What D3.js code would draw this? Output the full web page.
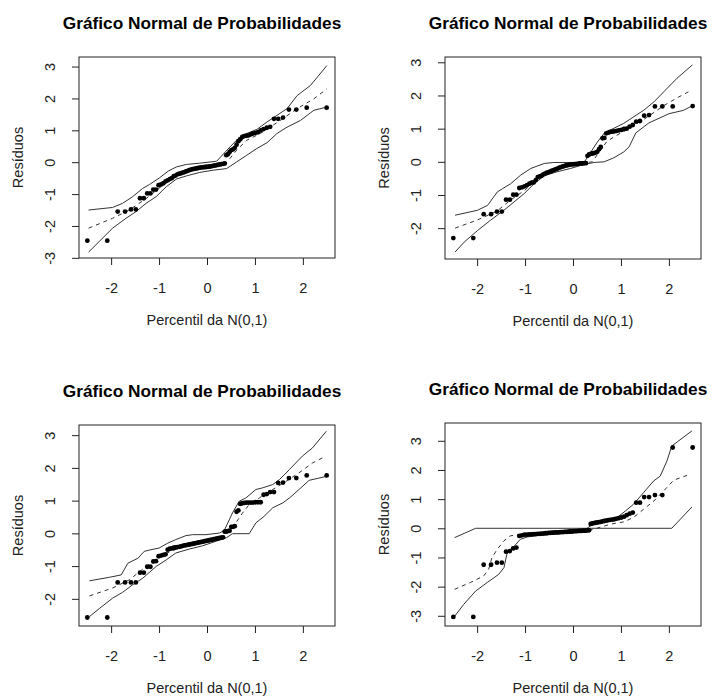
<!DOCTYPE html>
<html>
<head>
<meta charset="utf-8">
<script src="https://cdn.jsdelivr.net/npm/d3@7"></script>
<style>
  body { margin: 0; background: #fff; }
  svg { display: block; }
  text { font-family: "Liberation Sans", Arial, sans-serif; }
</style>
</head>
<body>
<svg id="chart" width="718" height="698"></svg>
<script>
// percentis da N(0,1) usados no eixo x (80 observacoes)
const quantis = [
  -2.496, -2.080, -1.863, -1.709, -1.586, -1.485, -1.397, -1.318, -1.247, -1.181,
  -1.120, -1.064, -1.010, -0.959, -0.910, -0.864, -0.820, -0.776, -0.735, -0.694,
  -0.655, -0.617, -0.579, -0.543, -0.507, -0.471, -0.437, -0.402, -0.369, -0.335,
  -0.302, -0.270, -0.237, -0.205, -0.173, -0.141, -0.110, -0.078, -0.047, -0.016,
  0.016, 0.047, 0.078, 0.110, 0.141, 0.173, 0.205, 0.237, 0.270, 0.302,
  0.335, 0.369, 0.402, 0.437, 0.471, 0.507, 0.543, 0.579, 0.617, 0.655,
  0.694, 0.735, 0.776, 0.820, 0.864, 0.910, 0.959, 1.010, 1.064, 1.120,
  1.181, 1.247, 1.318, 1.397, 1.485, 1.586, 1.709, 1.863, 2.080, 2.496
];

const xTicks = [-2, -1, 0, 1, 2];

// residuos ordenados, um vetor por grafico
const residuos1 = [
  -2.46, -2.46, -1.55, -1.55, -1.48, -1.48, -1.13, -1.13, -0.98, -0.98,
  -0.86, -0.86, -0.72, -0.70, -0.66, -0.60, -0.57, -0.53, -0.50, -0.44,
  -0.42, -0.38, -0.36, -0.35, -0.33, -0.31, -0.29, -0.27, -0.25, -0.23,
  -0.22, -0.21, -0.20, -0.19, -0.18, -0.17, -0.16, -0.16, -0.15, -0.15,
  -0.14, -0.14, -0.13, -0.12, -0.11, -0.10, -0.09, -0.08, -0.07, -0.06,
  -0.05, -0.04, 0.22, 0.25, 0.32, 0.38, 0.40, 0.45, 0.55, 0.66,
  0.72, 0.79, 0.82, 0.83, 0.84, 0.87, 0.90, 0.92, 0.94, 1.00,
  1.04, 1.08, 1.11, 1.36, 1.36, 1.40, 1.65, 1.65, 1.71, 1.71
];
const residuos2 = [
  -2.30, -2.30, -1.58, -1.58, -1.50, -1.50, -1.14, -1.14, -0.99, -0.99,
  -0.79, -0.77, -0.74, -0.70, -0.66, -0.63, -0.62, -0.55, -0.46, -0.44,
  -0.42, -0.38, -0.35, -0.33, -0.31, -0.29, -0.27, -0.25, -0.23, -0.21,
  -0.19, -0.17, -0.15, -0.14, -0.12, -0.11, -0.10, -0.09, -0.08, -0.08,
  -0.07, -0.07, -0.06, -0.06, -0.05, -0.05, -0.05, -0.04, -0.04, 0.18,
  0.22, 0.24, 0.25, 0.26, 0.28, 0.30, 0.38, 0.45, 0.71, 0.72,
  0.86, 0.88, 0.90, 0.91, 0.92, 0.93, 0.95, 0.96, 0.99, 1.00,
  1.06, 1.11, 1.21, 1.23, 1.39, 1.41, 1.67, 1.67, 1.67, 1.68
];
const residuos3 = [
  -2.57, -2.57, -1.50, -1.50, -1.50, -1.50, -1.20, -1.20, -1.02, -1.02,
  -0.86, -0.85, -0.70, -0.68, -0.66, -0.64, -0.50, -0.47, -0.46, -0.44,
  -0.43, -0.42, -0.41, -0.40, -0.38, -0.37, -0.36, -0.35, -0.34, -0.33,
  -0.32, -0.31, -0.30, -0.29, -0.28, -0.27, -0.26, -0.25, -0.24, -0.23,
  -0.22, -0.21, -0.20, -0.19, -0.18, -0.17, -0.16, -0.15, -0.14, -0.13,
  -0.12, 0.05, 0.06, 0.07, 0.08, 0.20, 0.20, 0.22, 0.66, 0.70,
  0.90, 0.92, 0.93, 0.94, 0.94, 0.94, 0.94, 0.95, 0.95, 0.95,
  1.18, 1.20, 1.26, 1.26, 1.54, 1.55, 1.69, 1.69, 1.77, 1.77
];
const residuos4 = [
  -3.04, -3.04, -1.25, -1.25, -1.18, -1.18, -0.80, -0.78, -0.69, -0.66,
  -0.26, -0.24, -0.22, -0.22, -0.21, -0.21, -0.20, -0.20, -0.19, -0.19,
  -0.18, -0.18, -0.17, -0.17, -0.16, -0.16, -0.15, -0.15, -0.14, -0.14,
  -0.14, -0.13, -0.13, -0.13, -0.12, -0.12, -0.12, -0.11, -0.11, -0.11,
  -0.10, -0.10, -0.10, -0.09, -0.09, -0.09, -0.08, -0.08, -0.08, -0.07,
  -0.07, 0.15, 0.17, 0.18, 0.19, 0.20, 0.21, 0.22, 0.24, 0.25,
  0.26, 0.28, 0.29, 0.30, 0.31, 0.33, 0.35, 0.37, 0.40, 0.45,
  0.50, 0.54, 0.88, 0.88, 1.07, 1.07, 1.14, 1.14, 2.77, 2.77
];

// envelopes simulados: [percentil, residuo]
const sup1 = [[-2.47, -1.50], [-1.97, -1.42], [-1.76, -1.29], [-1.55, -1.08], [-1.34, -0.82], [-1.20, -0.70], [-0.99, -0.49], [-0.81, -0.28], [-0.64, -0.15], [-0.43, -0.07], [-0.15, -0.03], [0.20, 0.03], [0.30, 0.19], [0.48, 0.48], [0.65, 0.74], [0.83, 0.90], [1.04, 1.03], [1.25, 1.26], [1.46, 1.47], [1.67, 1.68], [1.88, 2.09], [2.16, 2.41], [2.50, 3.03]];
const inf1 = [[-2.47, -2.82], [-2.25, -2.49], [-1.97, -2.07], [-1.69, -1.76], [-1.48, -1.55], [-1.27, -1.29], [-1.06, -1.08], [-0.85, -0.77], [-0.64, -0.53], [-0.43, -0.43], [-0.15, -0.32], [0.13, -0.25], [0.41, -0.20], [0.62, 0.01], [0.83, 0.22], [1.04, 0.43], [1.25, 0.61], [1.46, 0.90], [1.67, 1.10], [1.95, 1.31], [2.23, 1.63], [2.50, 1.73]];
const med1 = [[-2.47, -2.07], [-1.97, -1.76], [-1.62, -1.50], [-1.27, -1.14], [-0.92, -0.72], [-0.57, -0.35], [-0.22, -0.18], [0.20, -0.09], [0.41, -0.01], [0.62, 0.38], [0.83, 0.69], [1.11, 0.90], [1.53, 1.31], [1.88, 1.68], [2.23, 1.99], [2.50, 2.30]];

const sup2 = [[-2.46, -1.61], [-1.99, -1.46], [-1.78, -1.31], [-1.58, -0.91], [-1.47, -0.81], [-1.30, -0.66], [-1.09, -0.40], [-0.88, -0.20], [-0.60, -0.05], [-0.40, -0.02], [0.23, -0.02], [0.33, 0.20], [0.51, 0.60], [0.65, 0.86], [0.78, 0.96], [1.06, 1.16], [1.27, 1.36], [1.48, 1.56], [1.69, 1.81], [1.90, 2.12], [2.17, 2.52], [2.49, 2.92]];
const inf2 = [[-2.46, -2.72], [-2.27, -2.42], [-1.99, -2.07], [-1.72, -1.76], [-1.44, -1.46], [-1.23, -1.21], [-1.02, -0.96], [-0.81, -0.66], [-0.60, -0.42], [-0.33, -0.30], [-0.05, -0.20], [0.23, -0.08], [0.44, -0.02], [0.65, 0.00], [0.85, 0.12], [1.06, 0.30], [1.17, 0.45], [1.31, 0.87], [1.58, 1.17], [2.00, 1.45], [2.30, 1.55], [2.49, 1.69]];
const med2 = [[-2.46, -2.00], [-1.99, -1.75], [-1.60, -1.50], [-1.30, -1.15], [-1.00, -0.85], [-0.70, -0.45], [-0.40, -0.22], [0.00, -0.08], [0.30, -0.02], [0.40, 0.00], [0.55, 0.30], [0.70, 0.60], [0.85, 0.75], [1.10, 0.95], [1.50, 1.30], [1.90, 1.70], [2.20, 1.95], [2.46, 2.15]];

const sup3 = [[-2.45, -1.45], [-2.03, -1.34], [-1.79, -1.27], [-1.65, -0.91], [-1.44, -0.76], [-1.31, -0.55], [-1.17, -0.50], [-1.00, -0.45], [-0.82, -0.30], [-0.65, -0.19], [-0.44, -0.07], [-0.30, -0.04], [-0.02, -0.04], [0.26, 0.01], [0.36, 0.09], [0.53, 0.62], [0.67, 0.98], [0.81, 1.08], [1.02, 1.34], [1.16, 1.39], [1.37, 1.49], [1.51, 1.64], [1.72, 1.95], [1.99, 2.36], [2.20, 2.61], [2.49, 3.12]];
const inf3 = [[-2.45, -2.54], [-2.24, -2.29], [-1.97, -1.98], [-1.76, -1.80], [-1.55, -1.57], [-1.34, -1.37], [-1.06, -1.01], [-0.85, -0.81], [-0.65, -0.60], [-0.37, -0.48], [-0.09, -0.38], [0.19, -0.24], [0.40, -0.14], [0.53, -0.01], [0.88, -0.01], [1.02, 0.32], [1.19, 0.52], [1.37, 0.78], [1.58, 0.93], [1.72, 1.08], [1.92, 1.34], [2.13, 1.62], [2.34, 1.69], [2.49, 1.74]];
const med3 = [[-2.45, -1.91], [-1.97, -1.67], [-1.62, -1.42], [-1.27, -1.01], [-0.92, -0.65], [-0.58, -0.45], [-0.23, -0.30], [0.26, -0.12], [0.43, 0.01], [0.60, 0.32], [0.74, 0.62], [0.88, 0.88], [1.09, 1.08], [1.37, 1.34], [1.65, 1.59], [1.92, 1.85], [2.20, 2.15], [2.48, 2.36]];

const sup4 = [[-2.49, -3.06], [-2.28, -2.61], [-2.03, -2.15], [-1.79, -1.86], [-1.55, -1.58], [-1.44, -1.35], [-1.38, -0.89], [-1.24, -0.64], [-1.10, -0.38], [-0.96, -0.30], [-0.61, -0.21], [-0.26, -0.15], [0.22, -0.09], [0.36, 0.08], [0.64, 0.25], [0.92, 0.37], [1.09, 0.59], [1.26, 0.82], [1.47, 1.22], [1.68, 1.62], [1.82, 1.79], [1.96, 2.31], [2.06, 2.82], [2.48, 3.34]];
const inf4 = [[-2.47, -0.32], [-2.03, 0.00], [2.06, 0.00], [2.48, 0.73]];
const med4 = [[-2.47, -2.09], [-2.14, -1.86], [-1.86, -1.63], [-1.76, -1.41], [-1.69, -1.00], [-1.58, -0.72], [-1.44, -0.43], [-1.31, -0.26], [-1.10, -0.21], [-0.75, -0.21], [-0.26, -0.18], [0.22, -0.11], [0.43, -0.03], [0.78, 0.14], [1.06, 0.22], [1.26, 0.37], [1.47, 0.65], [1.69, 0.94], [1.89, 1.28], [2.10, 1.65], [2.44, 1.85]];

const titulo = "Gráfico Normal de Probabilidades";
const rotuloX = "Percentil da N(0,1)";
const rotuloY = "Resíduos";

const paineis = [
  { left: 79, top: 57, width: 256, height: 201, yDomain: [-3.005, 3.3], yTicks: [-3, -2, -1, 0, 1, 2, 3], residuos: residuos1, sup: sup1, inf: inf1, med: med1 },
  { left: 445, top: 57, width: 256, height: 202, yDomain: [-2.93, 3.16], yTicks: [-2, -1, 0, 1, 2, 3], residuos: residuos2, sup: sup2, inf: inf2, med: med2 },
  { left: 79, top: 425, width: 256, height: 201, yDomain: [-2.83, 3.31], yTicks: [-2, -1, 0, 1, 2, 3], residuos: residuos3, sup: sup3, inf: inf3, med: med3 },
  { left: 445, top: 423, width: 256, height: 203, yDomain: [-3.35, 3.61], yTicks: [-3, -2, -1, 0, 1, 2, 3], residuos: residuos4, sup: sup4, inf: inf4, med: med4 }
];

const svg = d3.select("#chart");
svg.append("rect").attr("width", 718).attr("height", 698).attr("fill", "#fff");

// rotulos com hifen simples, como no R
const fmt = d => String(d);

paineis.forEach(p => {
  const g = svg.append("g").attr("transform", `translate(${p.left},${p.top})`);

  const x = d3.scaleLinear().domain([-2.67, 2.67]).range([0, p.width]);
  const y = d3.scaleLinear().domain(p.yDomain).range([p.height, 0]);

  const line = d3.line().x(d => x(d[0])).y(d => y(d[1]));

  // envelopes
  [p.sup, p.inf].forEach(env => {
    g.append("path")
      .datum(env)
      .attr("d", line)
      .attr("fill", "none")
      .attr("stroke", "#333")
      .attr("stroke-width", 1);
  });
  g.append("path")
    .datum(p.med)
    .attr("d", line)
    .attr("fill", "none")
    .attr("stroke", "#333")
    .attr("stroke-width", 1)
    .attr("stroke-dasharray", "4,4");

  // pontos
  g.selectAll("circle")
    .data(quantis.map((q, i) => [q, p.residuos[i]]))
    .enter()
    .append("circle")
    .attr("cx", d => x(d[0]))
    .attr("cy", d => y(d[1]))
    .attr("r", 2.4)
    .attr("fill", "#000");

  // caixa
  g.append("rect")
    .attr("width", p.width)
    .attr("height", p.height)
    .attr("fill", "none")
    .attr("stroke", "#222")
    .attr("stroke-width", 1);

  // eixos
  const xAxisGroup = g.append("g")
    .attr("transform", `translate(0,${p.height})`)
    .call(d3.axisBottom(x).tickValues(xTicks).tickSize(7).tickSizeOuter(0).tickFormat(fmt));
  const yAxisGroup = g.append("g")
    .call(d3.axisLeft(y).tickValues(p.yTicks).tickSize(7).tickSizeOuter(0).tickFormat(fmt));

  [xAxisGroup, yAxisGroup].forEach(a => {
    a.select(".domain").remove();
    a.selectAll("line").attr("stroke", "#222");
  });

  xAxisGroup.selectAll("text")
    .attr("y", 35)
    .attr("dy", null)
    .attr("fill", "#222")
    .attr("font-size", "14.5px")
    .attr("font-family", null);

  yAxisGroup.selectAll("text")
    .attr("x", null)
    .attr("dy", "0.35em")
    .attr("text-anchor", "middle")
    .attr("transform", "translate(-29,0) rotate(-90)")
    .attr("fill", "#222")
    .attr("font-size", "14.5px")
    .attr("font-family", null);

  // titulos
  g.append("text")
    .attr("x", p.width / 2 - 5)
    .attr("y", -28)
    .attr("text-anchor", "middle")
    .attr("font-size", "17.3px")
    .attr("font-weight", "bold")
    .attr("fill", "#000")
    .text(titulo);

  g.append("text")
    .attr("x", p.width / 2)
    .attr("y", p.height + 67)
    .attr("text-anchor", "middle")
    .attr("font-size", "14.5px")
    .attr("fill", "#222")
    .text(rotuloX);

  g.append("text")
    .attr("transform", `translate(-61,${p.height / 2}) rotate(-90)`)
    .attr("dy", "0.35em")
    .attr("text-anchor", "middle")
    .attr("font-size", "14.5px")
    .attr("fill", "#222")
    .text(rotuloY);
});
</script>
</body>
</html>
